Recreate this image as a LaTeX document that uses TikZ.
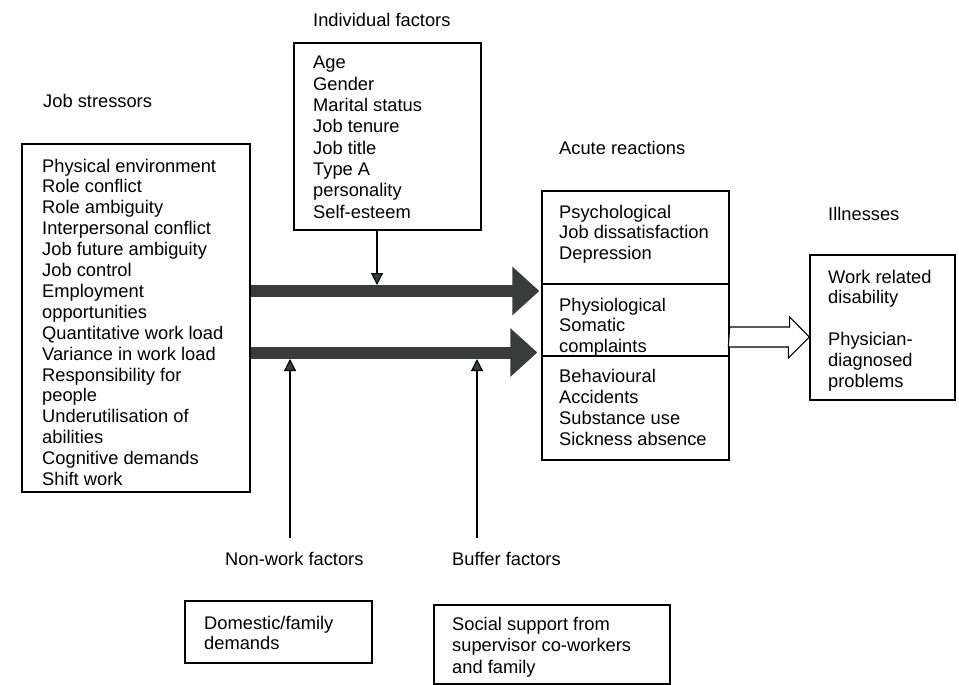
\documentclass[tikz,border=0pt]{standalone}
\usepackage{fontspec}
\setmainfont{Liberation Sans}
\usetikzlibrary{arrows.meta}
\definecolor{arrowgray}{RGB}{58,60,60}
\newcommand\stack[1]{\parbox[t]{9cm}{\raggedright #1}}
\begin{document}
\begin{tikzpicture}[x=1pt,y=-1pt,
  box/.style={draw=black, line width=1.3pt, inner sep=0pt, fill=white},
  txt/.style={anchor=base west, inner sep=0pt, font=\fontsize{18.3}{21}\selectfont},
  bigarrow/.style={draw=arrowgray, line width=12pt,
    -{Triangle[length=27pt,width=47pt]}, arrowgray},
  thinarrow/.style={draw=black, line width=1.1pt,
    -{Triangle[length=12pt,width=12pt,fill=arrowgray]}},
  hollowarrow/.style={draw=black, line width=1.1pt, fill=white, line join=miter}]
\useasboundingbox (0,0) rectangle (959,685);
\fill[white] (0,0) rectangle (959,685);

% boxes
\node[box, minimum width=228pt, minimum height=348pt] (stress) at (136,318) {};
\node[box, minimum width=187pt, minimum height=187pt] (indiv) at (387.5,136.5) {};
\node[box, minimum width=187pt, minimum height=269pt] (acute) at (635.5,325.5) {};
\node[box, minimum width=145pt, minimum height=145pt] (ill) at (882.5,327.5) {};
\node[box, minimum width=187pt, minimum height=62pt] (dom) at (278.5,632) {};
\node[box, minimum width=236pt, minimum height=79pt] (soc) at (552,644.5) {};

% section lines of the acute reactions box
\coordinate (d1) at (0,284);
\coordinate (d2) at (0,356);
\draw[line width=1.3pt] (acute.west |- d1) -- (acute.east |- d1);
\draw[line width=1.3pt] (acute.west |- d2) -- (acute.east |- d2);

% headings
\node[txt] (hstress) at (43,107) {Job stressors};
\node[txt] (hindiv) at (313,27) {Individual factors};
\node[txt] (hacute) at (559,154) {Acute reactions};
\node[txt] (hill) at (828,220) {Illnesses};
\node[txt] (hnon) at (225,565) {Non-work factors};
\node[txt] (hbuf) at (452,565) {Buffer factors};

% box contents
\node[txt, font=\fontsize{18.3}{20.9}\selectfont] (tstress) at (42,172) {\stack{Physical environment\\Role conflict\\Role ambiguity\\Interpersonal conflict\\Job future ambiguity\\Job control\\Employment\\opportunities\\Quantitative work load\\Variance in work load\\Responsibility for\\people\\Underutilisation of\\abilities\\Cognitive demands\\Shift work}};
\node[txt, font=\fontsize{18.3}{21.3}\selectfont] (tindiv) at (313,69) {\stack{Age\\Gender\\Marital status\\Job tenure\\Job title\\Type A\\personality\\Self-esteem}};
\node[txt, font=\fontsize{18.3}{20.8}\selectfont] (tpsy) at (559,218) {\stack{Psychological\\Job dissatisfaction\\Depression}};
\node[txt, font=\fontsize{18.3}{20.5}\selectfont] (tphy) at (559,311) {\stack{Physiological\\Somatic\\complaints}};
\node[txt, font=\fontsize{18.3}{21.3}\selectfont] (tbeh) at (559,382) {\stack{Behavioural\\Accidents\\Substance use\\Sickness absence}};
\node[txt, font=\fontsize{18.3}{20.8}\selectfont] (till) at (828,283) {\stack{Work related\\disability\\[20.8pt]Physician-\\diagnosed\\problems}};
\node[txt, font=\fontsize{18.3}{20}\selectfont] (tdom) at (204,629) {\stack{Domestic/family\\demands}};
\node[txt, font=\fontsize{18.3}{21.5}\selectfont] (tsoc) at (452,630) {\stack{Social support from\\supervisor co-workers\\and family}};

% main pathways from stressors to acute reactions
\coordinate (r1) at (0,291);
\coordinate (r2) at (0,352.5);
\draw[bigarrow] (stress.east |- r1) -- ([xshift=-2pt]acute.west |- r1);
\draw[bigarrow] (stress.east |- r2) -- ([xshift=-4pt]acute.west |- r2);

% moderating influences
\coordinate (m1) at (377,285);
\draw[thinarrow] (indiv.south -| m1) -- (m1);
\coordinate (n0) at (290,538);
\coordinate (n1) at (290,359);
\draw[thinarrow] (n0) -- (n1);
\coordinate (b0) at (477,538);
\coordinate (b1) at (477,359);
\draw[thinarrow] (b0) -- (b1);

% acute reactions lead to illnesses
\coordinate (h) at (0,337);
\draw[hollowarrow] (acute.east |- h) ++(0,-10) -- ++(60,0) -- ++(0,-10)
  -- (ill.west |- h) -- ++(-21,21) -- ++(0,-11) -- ++(-60,0) -- cycle;
\end{tikzpicture}
\end{document}
